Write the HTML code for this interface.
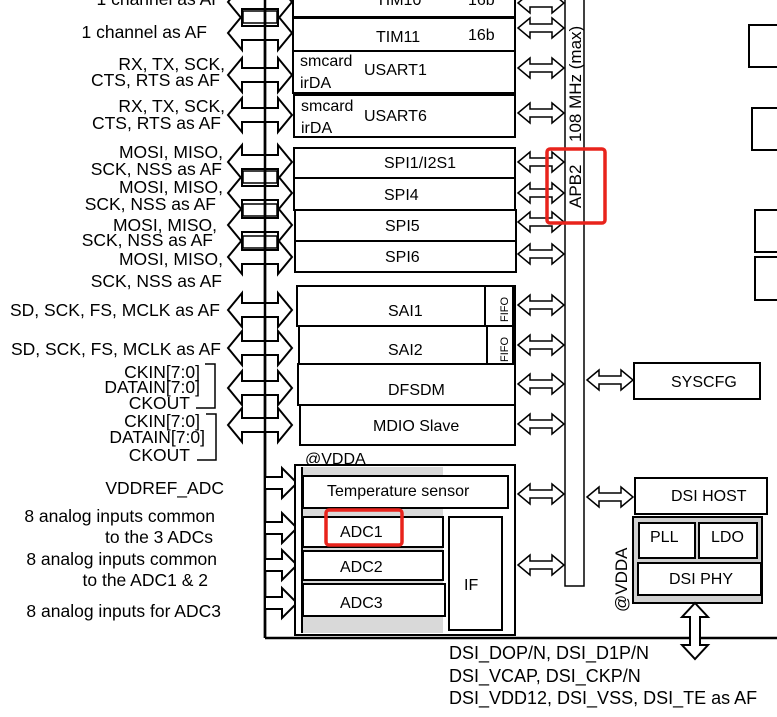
<!DOCTYPE html>
<html><head><meta charset="utf-8"><style>
html,body{margin:0;padding:0;background:#fff}
svg{display:block}
text{font-family:"Liberation Sans",Arial,sans-serif;fill:#000}
</style></head><body>
<svg width="777" height="717" viewBox="0 0 777 717" xmlns="http://www.w3.org/2000/svg">
<defs>
<polygon id="big" points="228,0 242,-17 242,-7 278,-7 278,-17 292,0 278,17 278,7 242,7 242,17" fill="#fff" stroke="#000" stroke-width="2"/>
<polygon id="sm" points="518,0 530,-10 530,-4 552,-4 552,-10 564,0 552,10 552,4 530,4 530,10" fill="#fff" stroke="#000" stroke-width="1.5"/>
<polygon id="ra" points="265,-6 282,-6 282,-15 297,0 282,15 282,6 265,6" fill="#fff" stroke="#000" stroke-width="2"/>
</defs>
<g fill="none" stroke="#000">
<line x1="265" y1="0" x2="265" y2="638" stroke-width="2.5"/>
<line x1="265" y1="638" x2="777" y2="638" stroke-width="2.5"/>
<path d="M565,0 V586 H584 V0" stroke-width="1.5"/>
</g>
<use href="#big" y="2"/><use href="#big" y="33"/><use href="#big" y="75"/><use href="#big" y="115"/>
<use href="#big" y="162"/><use href="#big" y="193"/><use href="#big" y="225"/><use href="#big" y="257"/>
<use href="#big" y="310"/><use href="#big" y="348"/><use href="#big" y="388"/><use href="#big" y="425"/>
<g fill="none" stroke="#000" stroke-width="1.5">
<rect x="243" y="11" width="34" height="12"/>
<rect x="243" y="171" width="34" height="12"/><rect x="243" y="204" width="34" height="12"/><rect x="243" y="236" width="34" height="12"/>
<line x1="265" y1="0" x2="265" y2="638" stroke-width="2.5"/>
</g>
<use href="#ra" y="483"/><use href="#ra" y="528"/><use href="#ra" y="565"/><use href="#ra" y="603"/>
<use href="#sm" y="3"/><use href="#sm" y="28"/><use href="#sm" y="68"/><use href="#sm" y="113"/>
<use href="#sm" y="162"/><use href="#sm" y="193"/><use href="#sm" y="222"/><use href="#sm" y="254"/>
<use href="#sm" y="305"/><use href="#sm" y="345"/><use href="#sm" y="384"/><use href="#sm" y="424"/>
<use href="#sm" y="494"/><use href="#sm" y="565"/>
<use href="#sm" x="69" y="380"/><use href="#sm" x="69" y="497"/>
<g fill="#fff" stroke="#000" stroke-width="2">
<rect x="293" y="-5" width="222" height="22"/>
<rect x="293" y="18" width="222" height="33"/>
<rect x="293" y="51" width="222" height="42"/>
<rect x="294" y="95" width="221" height="42"/>
<rect x="294" y="148" width="221" height="30"/>
<rect x="294" y="178" width="221" height="32"/>
<rect x="295" y="210" width="221" height="31"/>
<rect x="295" y="241" width="221" height="31"/>
<rect x="297" y="286" width="218" height="40"/>
<rect x="485" y="286" width="28" height="40"/>
<rect x="299" y="326" width="216" height="38"/>
<rect x="487" y="326" width="26" height="38"/>
<rect x="298" y="364" width="217" height="41"/>
<rect x="300" y="405" width="215" height="40"/>
<rect x="295" y="465" width="220" height="170"/>
</g>
<rect x="303" y="467" width="140" height="166" fill="#d9d9d9"/>
<g fill="#fff" stroke="#000" stroke-width="2">
<line x1="302" y1="467" x2="302" y2="633"/>
<rect x="303" y="476" width="205" height="32"/>
<rect x="303" y="517" width="140" height="30"/>
<rect x="303" y="551" width="140" height="29"/>
<rect x="303" y="584" width="142" height="32"/>
<rect x="449" y="517" width="53" height="113"/>
<rect x="634" y="363" width="126" height="36"/>
<rect x="635" y="478" width="132" height="36"/>
<rect x="633" y="517" width="129" height="86" fill="#d0d0d0"/>
<rect x="639" y="523" width="56" height="35"/>
<rect x="699" y="523" width="58" height="35"/>
<rect x="638" y="563" width="123" height="32"/>
<rect x="749" y="25" width="40" height="42"/>
<rect x="752" y="108" width="40" height="42"/>
<rect x="755" y="210" width="40" height="42"/>
<rect x="755" y="257" width="40" height="43"/>
<polygon points="695,603 708,617 700,617 700,645 708,645 695,659 682,645 690,645 690,617 682,617"/>
</g>
<rect x="326" y="510" width="76" height="35" rx="3" fill="none" stroke="#e8231c" stroke-width="3.5"/>
<rect x="547" y="149" width="58" height="74" rx="3" fill="none" stroke="#e8231c" stroke-width="3.5"/>
<g fill="none" stroke="#000" stroke-width="1.5">
<path d="M205,364 H215 V408 H196"/>
<path d="M206,414 H216 V460 H197"/>
</g>
<g font-size="17.5" text-anchor="end">
<text x="222" y="5">1 channel  as AF</text>
<text x="207" y="38">1 channel  as AF</text>
<text x="225" y="70">RX, TX, SCK,</text>
<text x="220" y="86">CTS, RTS as AF</text>
<text x="225" y="112">RX, TX, SCK,</text>
<text x="221" y="129">CTS, RTS as AF</text>
<text x="223" y="158">MOSI, MISO,</text>
<text x="222" y="175">SCK, NSS as AF</text>
<text x="223" y="193">MOSI, MISO,</text>
<text x="216" y="210">SCK, NSS as AF</text>
<text x="217" y="231">MOSI, MISO,</text>
<text x="213" y="246">SCK, NSS as AF</text>
<text x="223" y="265">MOSI, MISO,</text>
<text x="222" y="287">SCK, NSS as AF</text>
<text x="220" y="316">SD, SCK, FS, MCLK as AF</text>
<text x="221" y="355">SD, SCK, FS, MCLK as AF</text>
<text x="200" y="378">CKIN[7:0]</text>
<text x="200" y="393">DATAIN[7:0]</text>
<text x="190" y="409">CKOUT</text>
<text x="200" y="427">CKIN[7:0]</text>
<text x="205" y="443">DATAIN[7:0]</text>
<text x="190" y="461">CKOUT</text>
<text x="224" y="494">VDDREF_ADC</text>
<text x="215" y="522">8 analog inputs common</text>
<text x="213" y="543">to the 3 ADCs</text>
<text x="217" y="565">8 analog inputs common</text>
<text x="208" y="586">to the ADC1 &amp; 2</text>
<text x="221" y="617">8 analog inputs for ADC3</text>
</g>
<g font-size="16">
<text x="376" y="5">TIM10</text><text x="468" y="5">16b</text>
<text x="376" y="42">TIM11</text><text x="468" y="40">16b</text>
<text x="300" y="66">smcard</text><text x="300" y="88">irDA</text><text x="364" y="75">USART1</text>
<text x="301" y="111">smcard</text><text x="301" y="133">irDA</text><text x="364" y="121">USART6</text>
<text x="384" y="168">SPI1/I2S1</text>
<text x="384" y="200">SPI4</text>
<text x="385" y="231">SPI5</text>
<text x="385" y="262">SPI6</text>
<text x="388" y="316">SAI1</text>
<text x="388" y="355">SAI2</text>
<text x="388" y="395">DFSDM</text>
<text x="373" y="431">MDIO Slave</text>
<text x="305" y="464">@VDDA</text>
<text x="327" y="496">Temperature sensor</text>
<text x="340" y="537">ADC1</text>
<text x="340" y="572">ADC2</text>
<text x="340" y="608">ADC3</text>
<text x="464" y="590">IF</text>
<text x="671" y="387">SYSCFG</text>
<text x="671" y="501">DSI HOST</text>
<text x="650" y="542">PLL</text>
<text x="711" y="542">LDO</text>
<text x="669" y="584">DSI PHY</text>
</g>
<g font-size="18">
<text x="449" y="659">DSI_DOP/N, DSI_D1P/N</text>
<text x="449" y="682">DSI_VCAP, DSI_CKP/N</text>
<text x="449" y="704">DSI_VDD12, DSI_VSS, DSI_TE as AF</text>
</g>
<g font-size="11">
<text transform="translate(508,322) rotate(-90)">FIFO</text>
<text transform="translate(508,362) rotate(-90)">FIFO</text>
</g>
<g font-size="17">
<text transform="translate(581,142) rotate(-90)">108 MHz (max)</text>
<text transform="translate(581,208) rotate(-90)">APB2</text>
<text transform="translate(627,612) rotate(-90)">@VDDA</text>
</g>
</svg>
</body></html>
